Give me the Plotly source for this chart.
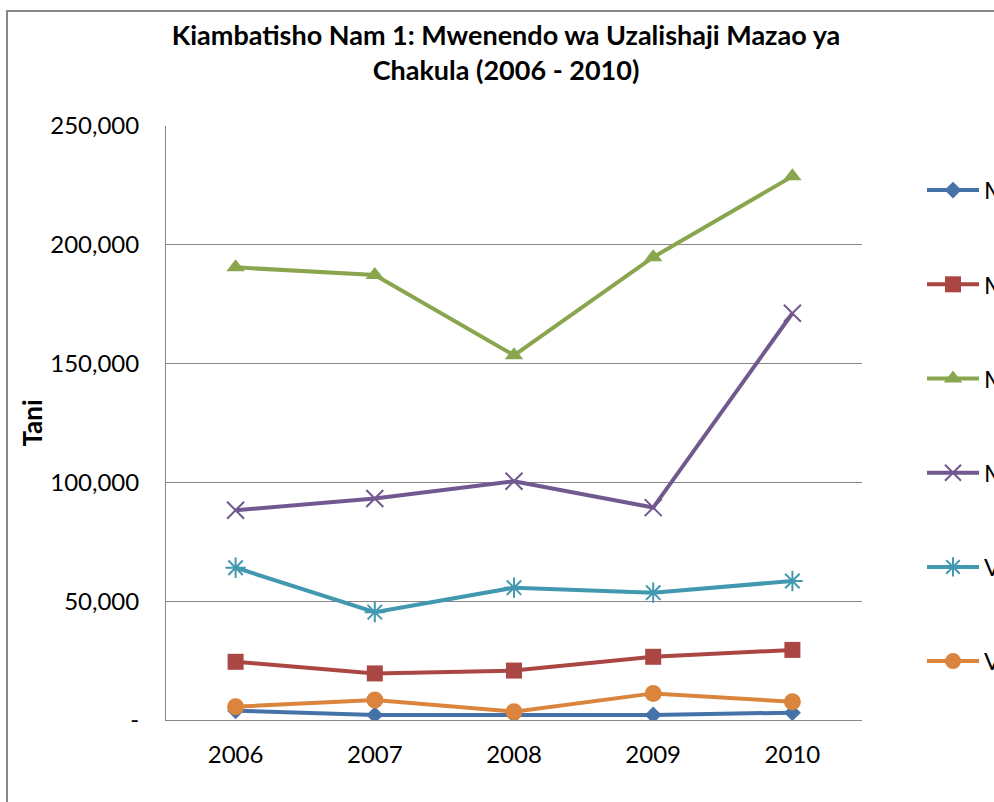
import plotly.graph_objects as go

years = ["2006", "2007", "2008", "2009", "2010"]

series_names = ["Mtama", "Mpunga", "Mahindi", "Mihogo", "Viazi vitamu", "Viazi mviringo"]
mtama = [3900, 2100, 2100, 2100, 3100]
mpunga = [24500, 19600, 20800, 26600, 29500]
mahindi = [190500, 187300, 153500, 194800, 228800]
mihogo = [88300, 93200, 100500, 89400, 171200]
viazi_vitamu = [64100, 45400, 55700, 53600, 58500]
viazi_mviringo = [5600, 8400, 3500, 11200, 7700]

y_tickvals = [0, 50000, 100000, 150000, 200000, 250000]
y_ticktext = ["-", "50,000", "100,000", "150,000", "200,000", "250,000"]

title_text = "Kiambatisho Nam 1: Mwenendo wa Uzalishaji Mazao ya<br>Chakula (2006 - 2010)"
y_title = "Tani"

colors = ["#4572A7", "#AA4643", "#89A54E", "#71588F", "#4198AF", "#DB843D"]
symbols = ["diamond", "square", "triangle-up", "x-thin-open", "asterisk-open", "circle"]
sizes = [13, 16, 16, 17, 17, 17]
data = [mtama, mpunga, mahindi, mihogo, viazi_vitamu, viazi_mviringo]

FONT = "Lato"

fig = go.Figure()
for i, (name, vals) in enumerate(zip(series_names, data)):
    fig.add_trace(go.Scatter(
        x=years, y=vals, name=name, mode="lines+markers",
        legendgroup=f"g{i}",
        line=dict(color=colors[i], width=4),
        marker=dict(symbol=symbols[i], size=sizes[i], color=colors[i],
                    line=dict(color=colors[i], width=2 if "open" in symbols[i] else 0)),
    ))

fig.update_layout(
    width=994, height=802,
    margin=dict(l=166, r=132, t=126, b=82, autoexpand=False),
    paper_bgcolor="white", plot_bgcolor="white",
    font=dict(family=FONT, size=24, color="#000000"),
    title=dict(text=title_text, x=506/994, xanchor="center", xref="container",
               y=1 - 45/802, yanchor="top", yref="container",
               font=dict(family=FONT, size=27, color="#000000", weight="bold")),
    showlegend=True,
    legend=dict(x=(922 - 166) / 696, xanchor="left", y=(720 - 168) / 594, yanchor="top",
                tracegroupgap=60, font=dict(size=24), itemwidth=52,
                bgcolor="rgba(0,0,0,0)"),
    xaxis=dict(type="category", range=[-0.5, 4.5], showgrid=False,
               showline=True, linecolor="#868686", linewidth=1,
               ticks="", ticklabelstandoff=13,
               tickfont=dict(family=FONT, size=24, color="#000000")),
    yaxis=dict(range=[0, 250000], tickvals=y_tickvals, ticktext=y_ticktext,
               showgrid=True, gridcolor="#868686", gridwidth=1,
               showline=True, linecolor="#868686", linewidth=1,
               zeroline=False, ticks="", ticklabelstandoff=21,
               tickfont=dict(family=FONT, size=24, color="#000000"),
               title=dict(text=y_title, standoff=0,
                          font=dict(family=FONT, size=26, color="#000000", weight="bold"))),
    shapes=[dict(type="rect", xref="paper", yref="paper",
                 x0=(7 - 166) / 696, x1=1.5, y0=-0.3, y1=(720 - 11) / 594,
                 line=dict(color="#868686", width=2), fillcolor="rgba(0,0,0,0)",
                 layer="below")],
)

fig.write_html("out.html", config={"displayModeBar": False},
               post_script="document.body.style.margin='0';")
